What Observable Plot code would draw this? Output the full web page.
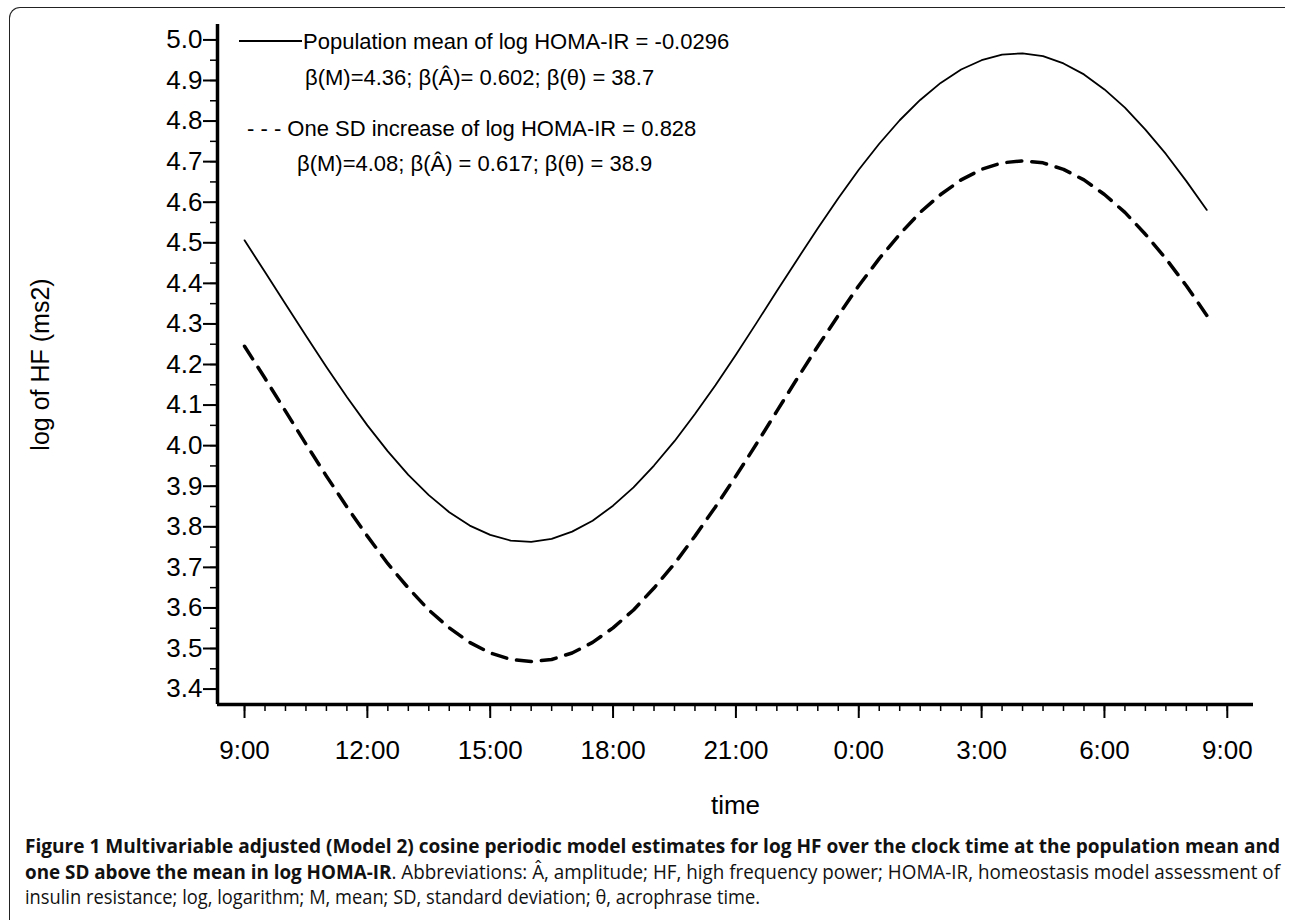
<!DOCTYPE html>
<html>
<head>
<meta charset="utf-8">
<script src="https://cdn.jsdelivr.net/npm/d3@7"></script>
<script src="https://cdn.jsdelivr.net/npm/@observablehq/plot@0.6"></script>
<style>
  html, body { margin: 0; padding: 0; background: #fff; }
  body { width: 1290px; height: 920px; position: relative; overflow: hidden; }
  #frame { position: absolute; left: 9px; top: 7px; width: 1276px; height: 940px;
           border-top: 1.5px solid #222; border-left: 1.5px solid #222;
           border-top-left-radius: 11px; box-sizing: border-box; }
  #chart { position: absolute; left: 0; top: 0; }
  #caption { position: absolute; left: 25px; top: 833px; width: 1255px;
             font-family: "Open Sans", "Noto Sans", sans-serif;
             font-size: 20px; line-height: 25.5px; color: #111; }
  #caption .ln { white-space: nowrap; transform-origin: 0 50%; display: block; width: max-content; }
  #caption b { font-weight: 700; }
</style>
</head>
<body>
<div id="frame"></div>
<div id="chart"></div>
<div id="caption">
  <div class="ln" id="c1"><b>Figure 1 Multivariable adjusted (Model 2) cosine periodic model estimates for log HF over the clock time at the population mean and</b></div>
  <div class="ln" id="c2"><b>one SD above the mean in log HOMA-IR</b>. Abbreviations: Â, amplitude; HF, high frequency power; HOMA-IR, homeostasis model assessment of</div>
  <div class="ln" id="c3">insulin resistance; log, logarithm; M, mean; SD, standard deviation; θ, acrophrase time.</div>
</div>
<script>
// ---- data ----
const hours = [9, 9.5, 10, 10.5, 11, 11.5, 12, 12.5, 13, 13.5, 14, 14.5, 15, 15.5, 16, 16.5,
  17, 17.5, 18, 18.5, 19, 19.5, 20, 20.5, 21, 21.5, 22, 22.5, 23, 23.5, 24, 24.5,
  25, 25.5, 26, 26.5, 27, 27.5, 28, 28.5, 29, 29.5, 30, 30.5, 31, 31.5, 32, 32.5];
const meanSeries = [4.506, 4.428, 4.349, 4.271, 4.194, 4.120, 4.050, 3.986, 3.928, 3.878, 3.836, 3.803,
  3.780, 3.766, 3.763, 3.770, 3.788, 3.815, 3.852, 3.897, 3.951, 4.011, 4.078, 4.149,
  4.224, 4.302, 4.381, 4.459, 4.536, 4.610, 4.680, 4.744, 4.802, 4.852, 4.894, 4.927,
  4.950, 4.964, 4.967, 4.960, 4.942, 4.915, 4.878, 4.833, 4.779, 4.719, 4.652, 4.581];
const sdSeries = [4.245, 4.166, 4.085, 4.004, 3.925, 3.849, 3.777, 3.709, 3.649, 3.595, 3.551, 3.515,
  3.489, 3.473, 3.468, 3.473, 3.489, 3.515, 3.551, 3.595, 3.649, 3.709, 3.777, 3.849,
  3.925, 4.004, 4.085, 4.166, 4.245, 4.321, 4.394, 4.461, 4.521, 4.575, 4.619, 4.655,
  4.681, 4.697, 4.702, 4.697, 4.681, 4.655, 4.619, 4.575, 4.521, 4.461, 4.394, 4.321];

const xTicks = [9, 12, 15, 18, 21, 24, 27, 30, 33];
const xTickLabels = ["9:00", "12:00", "15:00", "18:00", "21:00", "0:00", "3:00", "6:00", "9:00"];
const yTicks = [3.4, 3.5, 3.6, 3.7, 3.8, 3.9, 4.0, 4.1, 4.2, 4.3, 4.4, 4.5, 4.6, 4.7, 4.8, 4.9, 5.0];
const xDomain = [8.34, 33.64];
const yDomain = [3.362, 5.038];
const xLabel = "time";
const yLabel = "log of HF (ms2)";
const legendTexts = [
  "Population mean of log HOMA-IR = -0.0296",
  "β(M)=4.36; β(Â)= 0.602; β(θ) = 38.7",
  "- - - One SD increase of log HOMA-IR = 0.828",
  "β(M)=4.08; β(Â) = 0.617; β(θ) = 38.9"
];

const rows = hours.map((t, i) => ({t, mean: meanSeries[i], sd: sdSeries[i]}));
const xMinor = d3.range(9, 33.001, 0.5);
const yMinor = d3.range(3.4, 5.001, 0.05).map(v => +v.toFixed(2));

const font = "'Liberation Sans', Arimo, Arial, sans-serif";

const chart = Plot.plot({
  width: 1290,
  height: 830,
  marginLeft: 217,
  marginRight: 37,
  marginTop: 24,
  marginBottom: 126,
  x: {domain: xDomain},
  y: {domain: yDomain},
  style: {fontFamily: font, color: "#000", background: "transparent", overflow: "visible"},
  marks: [
    Plot.axisY(yMinor, {tickSize: 7, tickFormat: () => "", strokeWidth: 1.5, label: null}),
    Plot.axisY(yTicks, {tickSize: 14, tickPadding: 1, tickFormat: d => d.toFixed(1), fontSize: 26, strokeWidth: 2, label: null}),
    Plot.axisX(xMinor, {tickSize: 7, tickFormat: () => "", strokeWidth: 1.5, label: null}),
    Plot.axisX(xTicks, {tickSize: 14, tickPadding: 22, tickFormat: d => xTickLabels[xTicks.indexOf(d)], fontSize: 26, strokeWidth: 2, label: null}),
    Plot.ruleX([xDomain[0]], {strokeWidth: 3.5}),
    Plot.ruleY([yDomain[0]], {strokeWidth: 3.5}),
    Plot.line(rows, {x: "t", y: "mean", stroke: "#000", strokeWidth: 1.8}),
    Plot.line(rows, {x: "t", y: "sd", stroke: "#000", strokeWidth: 3.5, strokeDasharray: "15,10"}),
    Plot.text([yLabel], {frameAnchor: "left", dx: -177, rotate: -90, fontSize: 25, textAnchor: "middle", lineAnchor: "middle"}),
    Plot.text([xLabel], {frameAnchor: "bottom", dy: 101, fontSize: 26, textAnchor: "middle", lineAnchor: "middle"})
  ]
});

// legend drawn into the same svg
const svg = d3.select(chart);
const lg = svg.append("g").attr("font-family", font).attr("font-size", 22)
  .attr("fill", "#000").attr("text-anchor", "start");
lg.append("line").attr("x1", 239).attr("x2", 302).attr("y1", 41).attr("y2", 41)
  .attr("stroke", "#000").attr("stroke-width", 2);
const legendPos = [[303, 41], [305, 77], [247, 128], [297, 163]];
legendTexts.forEach((t, i) => {
  lg.append("text").attr("x", legendPos[i][0]).attr("y", legendPos[i][1])
    .attr("dy", "0.35em").attr("text-anchor", "start").text(t);
});

document.getElementById("chart").appendChild(chart);

// condense caption lines to the reference widths
const c1 = document.getElementById("c1"), c2 = document.getElementById("c2"), c3 = document.getElementById("c3");
const s1 = 1255 / c1.getBoundingClientRect().width;
const s2 = 1255 / c2.getBoundingClientRect().width;
const s3 = 735 / c3.getBoundingClientRect().width;
c1.style.transform = `scaleX(${s1})`;
c2.style.transform = `scaleX(${s2})`;
c3.style.transform = `scaleX(${s3})`;
</script>
</body>
</html>
